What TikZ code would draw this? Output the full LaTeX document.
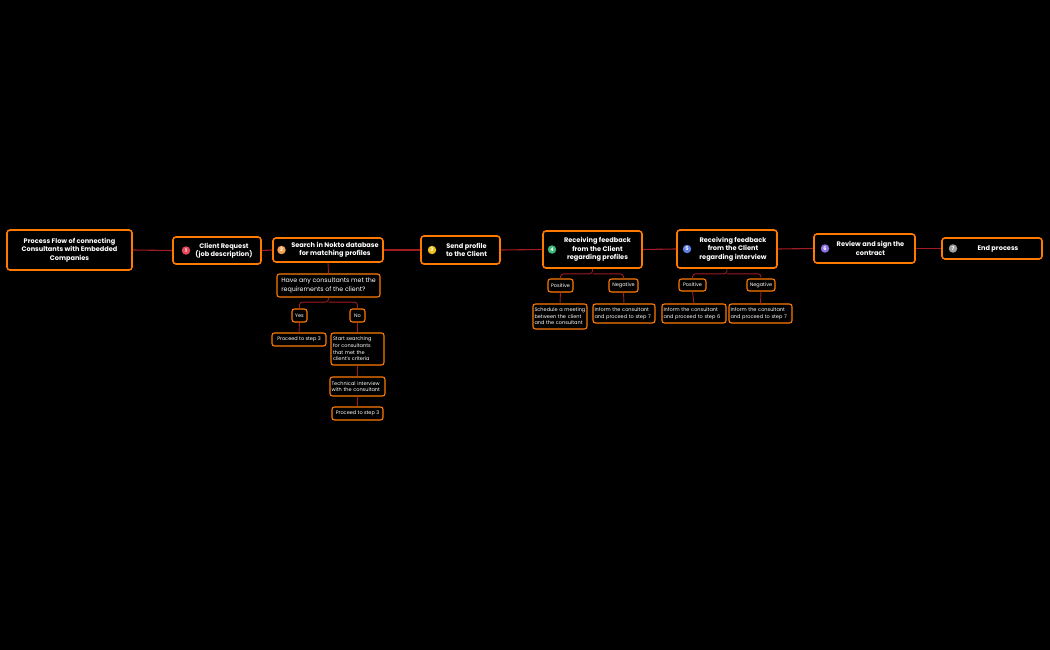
\documentclass[tikz,border=0pt]{standalone}
\usepackage{fontspec}
\setmainfont{Poppins}
\usetikzlibrary{calc}
\definecolor{bordo}{RGB}{255,122,0}
\definecolor{wire}{RGB}{160,28,34}
\definecolor{dotone}{RGB}{232,72,88}
\definecolor{dottwo}{RGB}{245,160,80}
\definecolor{dotthree}{RGB}{240,192,32}
\definecolor{dotfour}{RGB}{60,184,120}
\definecolor{dotfive}{RGB}{96,128,230}
\definecolor{dotsix}{RGB}{140,112,228}
\definecolor{dotseven}{RGB}{160,160,160}
\tikzset{
  mainbox/.style={draw=bordo, line width=1.6pt, rounded corners=3pt, fill=black, inner sep=0pt},
  subbox/.style={draw=bordo, line width=1.1pt, rounded corners=2.5pt, fill=black, inner sep=0pt,
    text=white, font=\fontsize{5}{6.6}\selectfont},
  maintext/.style={text=white, font=\bfseries\fontsize{6.6}{8.5}\selectfont, align=center, inner sep=0pt},
  badge/.style={circle, fill=#1, text=white, inner sep=0pt, minimum size=8.5pt,
    font=\bfseries\fontsize{5}{5}\selectfont},
  link/.style={draw=wire, line width=1.1pt},
  twig/.style={draw=wire, line width=0.9pt, rounded corners=3pt},
}
\begin{document}
\begin{tikzpicture}[x=1pt, y=-1pt]
    \fill[black] (0, 0) rectangle (1050, 650) ;
    \useasboundingbox (0, 0) rectangle (1050, 650) ;

    % main row
    \node[mainbox, maintext, minimum width=125, minimum height=40] (title) at (69.5, 250)
      {Process Flow of connecting\\Consultants with Embedded\\Companies} ;
    \node[mainbox, minimum width=88, minimum height=27] (req) at (217, 250.5) {} ;
    \node[badge=dotone] (b1) at (186, 250.5) {1} ;
    \node[maintext] (t1) at (224, 250.5) {Client Request\\(job description)} ;
    \node[mainbox, minimum width=110, minimum height=24] (search) at (328, 250) {} ;
    \node[badge=dottwo] (b2) at (281.5, 250) {2} ;
    \node[maintext] (t2) at (335, 250) {Search in Nokto database\\for matching profiles} ;
    \node[mainbox, minimum width=79, minimum height=28] (send) at (460.5, 250) {} ;
    \node[badge=dotthree] (b3) at (432, 250) {3} ;
    \node[maintext] (t3) at (466.5, 250) {Send profile\\to the Client} ;
    \node[mainbox, minimum width=99, minimum height=37] (fbone) at (592.5, 249.5) {} ;
    \node[badge=dotfour] (b4) at (552, 249.5) {4} ;
    \node[maintext] (t4) at (597.5, 249.5) {Receiving feedback\\from the Client\\regarding profiles} ;
    \node[mainbox, minimum width=100, minimum height=38] (fbtwo) at (727, 249) {} ;
    \node[badge=dotfive] (b5) at (687, 249) {5} ;
    \node[maintext] (t5) at (733, 249) {Receiving feedback\\from the Client\\regarding interview} ;
    \node[mainbox, minimum width=101, minimum height=29] (review) at (864.5, 248.5) {} ;
    \node[badge=dotsix] (b6) at (825, 248.5) {6} ;
    \node[maintext] (t6) at (870.5, 248.5) {Review and sign the\\contract} ;
    \node[mainbox, minimum width=100, minimum height=21] (finish) at (992, 248.5) {} ;
    \node[badge=dotseven] (b7) at (953, 248.5) {7} ;
    \node[maintext] (t7) at (998, 248.5) {End process} ;

    \draw[link] (title.east) -- (req.west) ;
    \draw[link] (req.east) -- (search.west) ;
    \draw[link] (search.east) -- (send.west) ;
    \draw[link] (send.east) -- (fbone.west) ;
    \draw[link] (fbone.east) -- (fbtwo.west) ;
    \draw[link] (fbtwo.east) -- (review.west) ;
    \draw[link] (review.east) -- (finish.west) ;

    % step 2 branch
    \node[subbox, minimum width=103, minimum height=23, font=\fontsize{6.3}{8.3}\selectfont, align=left]
      (quest) at (328.5, 285.5) {Have any consultants met the\\requirements of the client?} ;
    \node[subbox, minimum width=15, minimum height=13] (yes) at (299.5, 315.5) {Yes} ;
    \node[subbox, minimum width=15, minimum height=13] (no) at (357.5, 315.5) {No} ;
    \node[subbox, minimum width=54, minimum height=13] (stepa) at (299, 339.5) {Proceed to step 3} ;
    \node[subbox, minimum width=53, minimum height=32, text width=49pt, align=left]
      (hunt) at (357.5, 349) {Start searching\\for consultants\\that met the\\client's criteria} ;
    \node[subbox, minimum width=55, minimum height=19, text width=52pt, align=left]
      (tech) at (357.5, 386.5) {Technical interview\\with the consultant} ;
    \node[subbox, minimum width=51, minimum height=13] (stepb) at (357.5, 413.5) {Proceed to step 3} ;

    \draw[twig] (search.south) -- (quest.north) ;
    \coordinate (qfork) at ($(quest.south) + (0, 4.5)$) ;
    \draw[twig] (quest.south) -- (qfork) -| (yes.north) ;
    \draw[twig] (qfork) -| (no.north) ;
    \draw[twig] (yes.south) -- (stepa.north) ;
    \draw[twig] (no.south) -- (hunt.north) ;
    \draw[twig] (hunt.south) -- (tech.north) ;
    \draw[twig] (tech.south) -- (stepb.north) ;

    % step 4 branch
    \node[subbox, minimum width=25, minimum height=13] (posa) at (560.5, 285.5) {Positive} ;
    \node[subbox, minimum width=29, minimum height=13] (nega) at (623.5, 285.5) {Negative} ;
    \node[subbox, minimum width=54, minimum height=25, text width=51pt, align=left]
      (meet) at (560, 316.5) {Schedule a meeting\\between the client\\and the consultant} ;
    \node[subbox, minimum width=62, minimum height=19, text width=59pt, align=left]
      (infa) at (624, 313.5) {Inform the consultant\\and proceed to step 7} ;
    \coordinate (afork) at ($(fbone.south) + (0, 5)$) ;
    \draw[twig] (fbone.south) -- (afork) -| (posa.north) ;
    \draw[twig] (afork) -| (nega.north) ;
    \draw[twig] (posa.south) -- (meet.north) ;
    \draw[twig] (nega.south) -- (infa.north) ;

    % step 5 branch
    \node[subbox, minimum width=27, minimum height=12] (posb) at (692.5, 285) {Positive} ;
    \node[subbox, minimum width=28, minimum height=12] (negb) at (761, 285) {Negative} ;
    \node[subbox, minimum width=64, minimum height=19, text width=61pt, align=left]
      (infb) at (694, 313.5) {Inform the consultant\\and proceed to step 6} ;
    \node[subbox, minimum width=63, minimum height=19, text width=60pt, align=left]
      (infc) at (760.5, 313.5) {Inform the consultant\\and proceed to step 7} ;
    \coordinate (bfork) at ($(fbtwo.south) + (0, 5)$) ;
    \draw[twig] (fbtwo.south) -- (bfork) -| (posb.north) ;
    \draw[twig] (bfork) -| (negb.north) ;
    \draw[twig] (posb.south) -- (infb.north) ;
    \draw[twig] (negb.south) -- (infc.north) ;
\end{tikzpicture}
\end{document}
